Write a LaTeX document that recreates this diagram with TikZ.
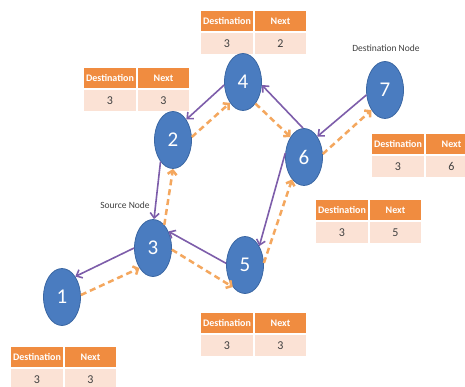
\documentclass[tikz,border=0pt]{standalone}
\usepackage{fontspec}
\setmainfont{Carlito}
\usetikzlibrary{shapes.geometric,arrows.meta}
\definecolor{nodeblue}{HTML}{4A7CC0}
\definecolor{nodeedge}{HTML}{3B67A3}
\definecolor{linkpurple}{HTML}{7D5DAA}
\definecolor{routeorange}{HTML}{F4A75E}
\definecolor{headorange}{HTML}{F08C40}
\definecolor{rowpeach}{HTML}{FBE2D5}

\tikzset{
  netnode/.style={ellipse, draw=nodeedge, line width=0.8pt, fill=nodeblue,
    minimum width=37pt, minimum height=57pt, inner sep=0pt, text=white,
    font=\fontsize{21}{21}\selectfont},
  link/.style={draw=linkpurple, line width=1.6pt,
    -{Straight Barb[length=5pt,width=9pt]}},
  route/.style={draw=routeorange, line width=2.5pt, dash pattern=on 6pt off 4pt,
    -{Straight Barb[length=4pt,width=9pt]}},
  headcell/.style={draw=white, line width=1pt, fill=headorange, text=white,
    font=\fontsize{10}{10}\selectfont\bfseries, inner sep=0pt,
    minimum height=21pt, anchor=north west},
  datacell/.style={draw=white, line width=1pt, fill=rowpeach, text=black!75,
    font=\fontsize{12}{12}\selectfont, inner sep=0pt,
    minimum height=22pt, anchor=north west},
  caption/.style={text=black!75, font=\fontsize{9.5}{9.5}\selectfont, inner sep=0pt}
}

% routing table: name, top-left x, top-left y, destination, next hop
\newcommand\routetable[5]{%
  \node[headcell, minimum width=53pt] (#1-hd) at (#2,#3) {Destination};
  \node[headcell, minimum width=52pt] (#1-hn) at (#1-hd.north east) {Next};
  \node[datacell, minimum width=53pt] (#1-d) at (#1-hd.south west) {#4};
  \node[datacell, minimum width=52pt] (#1-n) at (#1-hd.south east) {#5};
}

\begin{document}
\begin{tikzpicture}[x=1pt, y=-1pt]
  \useasboundingbox (0,0) rectangle (465,387);
  \clip (0,0) rectangle (465,387);
  \fill[white] (0,0) rectangle (465,387);

  % routing tables
  \routetable{tab4}{200}{10}{3}{2}
  \routetable{tab2}{83}{67}{3}{3}
  \routetable{tab7}{371}{133}{3}{6}
  \routetable{tab6}{315}{199}{3}{5}
  \routetable{tab5}{200}{312}{3}{3}
  \routetable{tab1}{10}{346}{3}{3}

  % network nodes
  \node[netnode] (n1) at (62,297) {1};
  \node[netnode] (n2) at (173,140) {2};
  \node[netnode] (n3) at (153,248) {3};
  \node[netnode] (n4) at (243,82) {4};
  \node[netnode] (n5) at (245,265) {5};
  \node[netnode] (n6) at (304,157) {6};
  \node[netnode] (n7) at (385,90) {7};

  % captions
  \node[caption] (src) at (125,205) {Source Node};
  \node[caption] (dst) at (386,48) {Destination Node};

  % reverse path (request flood)
  \draw[link] (n4.189) -- (n2.57);
  \draw[link] (n2.240) -- (n3.88);
  \draw[link] (n3.180) -- (n1.57);
  \draw[link] (n5.175) -- (n3.47);
  \draw[link] (n6.168) -- (n5.53);
  \draw[link] (n6.92) -- (n4.-9);
  \draw[link] (n7.195) -- (n6.57);

  % forward route
  \draw[route] (n1.6) -- (n3.236);
  \draw[route] (n3.64) -- (n2.270);
  \draw[route] (n2.9) -- (n4.238);
  \draw[route] (n4.-60) -- (n6.124);
  \draw[route] (n3.-5) -- (n5.241);
  \draw[route] (n5.6) -- (n6.242);
  \draw[route] (n6.9) -- (n7.236);
\end{tikzpicture}
\end{document}
